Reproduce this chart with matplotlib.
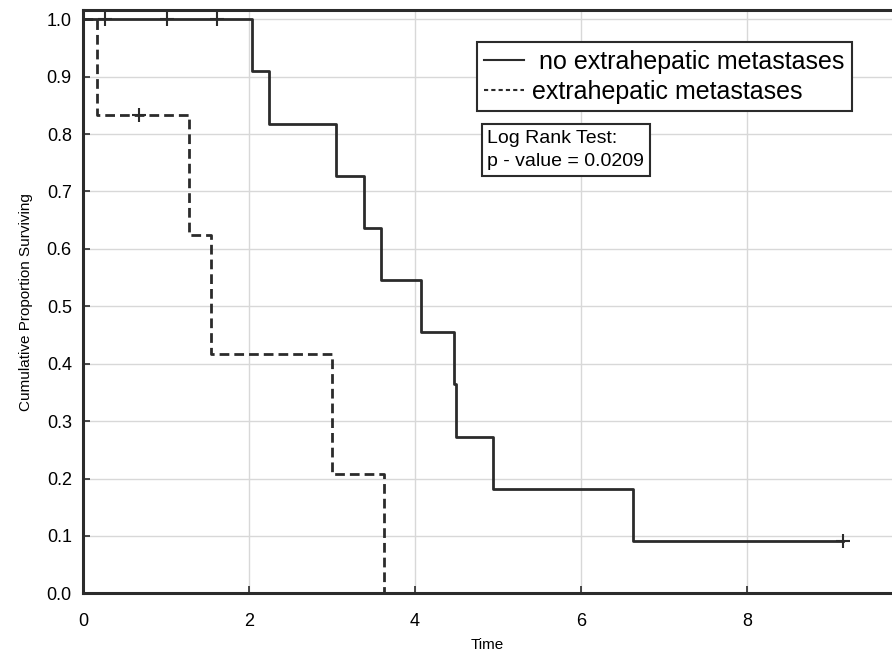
import numpy as np
import matplotlib.pyplot as plt
from matplotlib.lines import Line2D

plt.rcParams['font.family'] = ['Liberation Sans', 'DejaVu Sans']

# Kaplan-Meier: no extrahepatic metastases
t_no = [0, 2.04, 2.24, 3.05, 3.39, 3.59, 4.07, 4.47, 4.50, 4.94, 6.63, 9.16]
s_no = [1.0, 0.909, 0.818, 0.727, 0.636, 0.545, 0.455, 0.364, 0.273, 0.182, 0.091, 0.091]
cens_t_no = [0.27, 1.01, 1.61, 9.16]
cens_s_no = [1.0, 1.0, 1.0, 0.091]

# Kaplan-Meier: extrahepatic metastases
t_ex = [0, 0.17, 1.28, 1.54, 3.00, 3.63]
s_ex = [1.0, 0.833, 0.625, 0.417, 0.208, 0.0]
cens_t_ex = [0.67]
cens_s_ex = [0.833]

xticks = [0, 2, 4, 6, 8]
yticks = np.round(np.arange(0, 1.01, 0.1), 1)

col = '#2b2b2b'

fig = plt.figure(figsize=(8.92, 6.66), dpi=100)
ax = fig.add_axes([0.093, 0.109, 0.907, 0.876])

ax.plot(t_no, s_no, drawstyle='steps-post', color=col, lw=2)
ax.plot(cens_t_no, cens_s_no, '+', color=col, ms=10, mew=1.5)
ax.plot(t_ex, s_ex, drawstyle='steps-post', color=col, lw=2, dashes=(3.5, 1.8))
ax.plot(cens_t_ex, cens_s_ex, '+', color=col, ms=10, mew=1.5)

ax.set_xlim(0, 9.75)
ax.set_ylim(0, 1.016)
ax.set_xticks(xticks)
ax.set_yticks(yticks)
ax.set_yticklabels([f'{v:.1f}' for v in yticks])
ax.grid(True, color='#d8d8d8', lw=1)
ax.set_axisbelow(True)
ax.tick_params(direction='in', length=5, width=1.2, color=col, labelsize=13)
ax.tick_params(axis='x', pad=14)
ax.tick_params(axis='y', pad=8)
for side in ['left', 'bottom', 'top']:
    ax.spines[side].set_linewidth(2.2)
    ax.spines[side].set_color(col)
ax.spines['right'].set_visible(False)

ax.set_xlabel('Time', fontsize=11, labelpad=6)
ax.set_ylabel('Cumulative Proportion Surviving', fontsize=11, labelpad=10)

handles = [Line2D([], [], color=col, lw=1.5),
           Line2D([], [], color=col, lw=1.5, dashes=(2, 1.5))]
leg = ax.legend(handles, [' no extrahepatic metastases', 'extrahepatic metastases'],
                loc='upper left', bbox_to_anchor=(0.487, 0.945), fontsize=18,
                frameon=True, fancybox=False, edgecolor=col, framealpha=1,
                handlelength=1.6, handletextpad=0.3, borderpad=0.3,
                labelspacing=0.25, borderaxespad=0)
leg.get_frame().set_linewidth(1.5)

ax.text(0.5, 0.795, 'Log Rank Test:\np - value = 0.0209', transform=ax.transAxes,
        fontsize=14, va='top', ha='left', linespacing=1.5,
        bbox=dict(boxstyle='square,pad=0.3', fc='white', ec=col, lw=1.5))

fig.savefig('out.png', dpi=100)
